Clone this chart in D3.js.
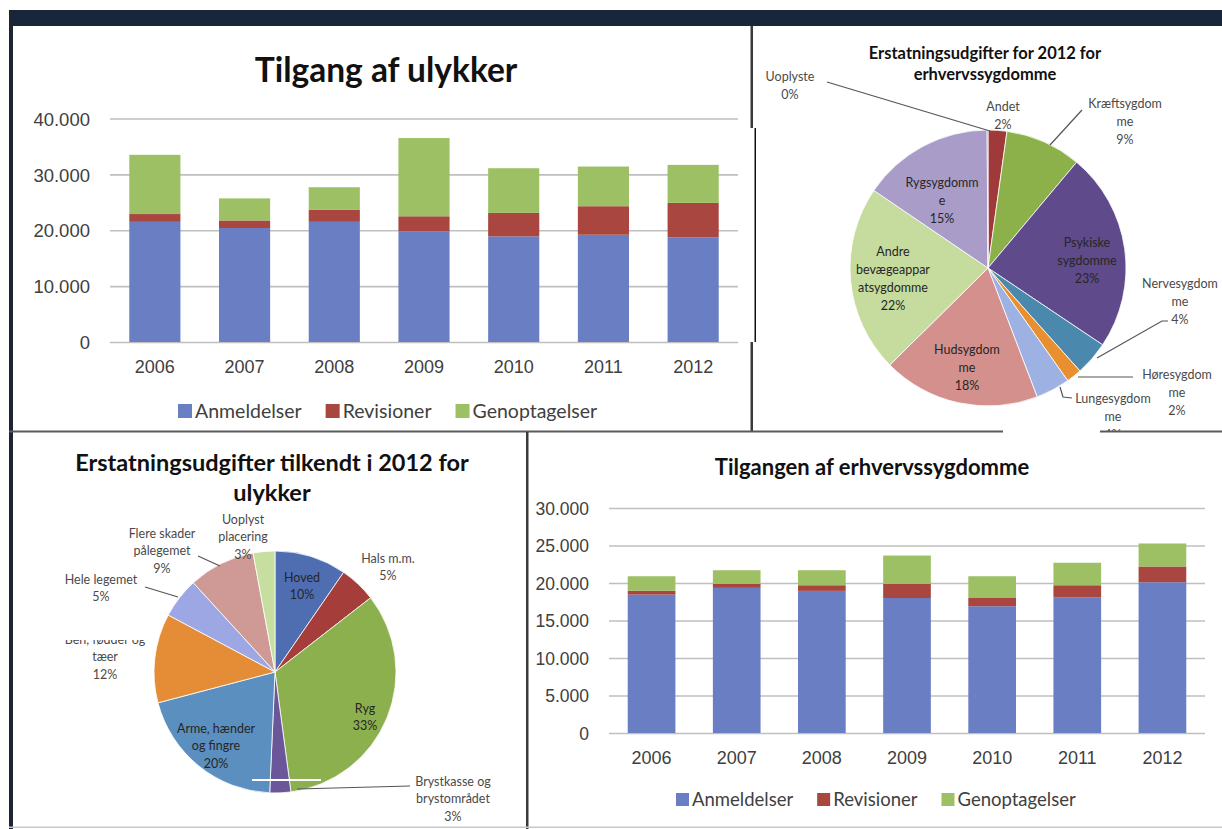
<!doctype html>
<html>
<head>
<meta charset="utf-8">
<script src="https://cdn.jsdelivr.net/npm/d3@7"></script>
<style>
  body { margin: 0; background: #fff; }
  svg { display: block; font-family: Lato, "Open Sans", sans-serif; }
</style>
</head>
<body>
<svg id="chart" width="1222" height="829"></svg>
<script>
const years = ["2006", "2007", "2008", "2009", "2010", "2011", "2012"];
const seriesNames = ["Anmeldelser", "Revisioner", "Genoptagelser"];

// Tilgang af ulykker
const ulykkerAnmeldelser = [21500, 20400, 21500, 19800, 18900, 19200, 18700];
const ulykkerRevisioner = [1400, 1350, 2200, 2700, 4200, 5100, 6200];
const ulykkerGenoptagelser = [10600, 3950, 4000, 14000, 8000, 7100, 6800];
const ulykkerTicks = [0, 10000, 20000, 30000, 40000];

// Tilgangen af erhvervssygdomme
const sygAnmeldelser = [18450, 19350, 18950, 18000, 16900, 18100, 20100];
const sygRevisioner = [530, 520, 750, 1870, 1100, 1600, 2100];
const sygGenoptagelser = [1920, 1830, 2000, 3790, 2900, 3000, 3070];
const sygTicks = [0, 5000, 10000, 15000, 20000, 25000, 30000];

// Erstatningsudgifter for 2012 for erhvervssygdomme (pct.)
const sygPieNames = [["Andet"], ["Kræftsygdom", "me"], ["Psykiske", "sygdomme"], ["Nervesygdom", "me"],
  ["Høresygdom", "me"], ["Lungesygdom", "me"], ["Hudsygdom", "me"],
  ["Andre", "bevægeappar", "atsygdomme"], ["Rygsygdomm", "e"], ["Uoplyste"]];
const sygPieValues = [2.2, 8.9, 23.3, 4.0, 1.8, 4.0, 18.4, 21.9, 15.4, 0.1];

// Erstatningsudgifter tilkendt i 2012 for ulykker (pct.)
const ulykkePieNames = [["Hoved"], ["Hals m.m."], ["Ryg"], ["Brystkasse og", "brystområdet"],
  ["Arme, hænder", "og fingre"], ["Ben, fødder og", "tæer"], ["Hele legemet"],
  ["Flere skader", "pålegemet"], ["Uoplyst", "placering"]];
const ulykkePieValues = [9.6, 4.9, 33.4, 2.8, 20.2, 11.9, 5.4, 8.9, 2.9];

const barColors = ["#6a7ec4", "#a8463f", "#9dc064"];
const sygPieColors = ["#a03a3a", "#8cb14a", "#5f4a8b", "#4a89ad", "#e8902f", "#9eb1e3", "#d4908c", "#c6dc9e", "#a99cc8", "#a03a3a"];
const ulykkePieColors = ["#4f6eb2", "#a53d3b", "#8db04e", "#6b569a", "#5b8fbf", "#e48d36", "#9ca7e3", "#cf9a95", "#c6dea0"];

const fmt = d3.formatLocale({decimal: ",", thousands: ".", grouping: [3], currency: ["", ""]}).format(",d");
const svg = d3.select("#chart");
svg.append("rect").attr("width", 1222).attr("height", 829).attr("fill", "#fff");

function stackedBars(cfg) {
  const g = svg.append("g");
  const rows = years.map((yr, i) => ({year: yr, Anmeldelser: cfg.series[0][i], Revisioner: cfg.series[1][i], Genoptagelser: cfg.series[2][i]}));
  const stacked = d3.stack().keys(seriesNames)(rows);
  const x = d3.scaleBand().domain(years).range([cfg.x0, cfg.x1]).paddingInner(cfg.pad).paddingOuter(cfg.pad / 2);
  const y = d3.scaleLinear().domain([0, d3.max(cfg.ticks)]).range([cfg.yb, cfg.yt]);

  const ya = g.append("g").attr("transform", `translate(${cfg.x0},0)`)
    .call(d3.axisLeft(y).tickValues(cfg.ticks).tickFormat(fmt).tickSize(-(cfg.x1 - cfg.x0)).tickPadding(20));
  ya.select(".domain").remove();
  ya.selectAll("line").attr("stroke", "#bfbfbf").attr("stroke-width", 1.6);
  ya.selectAll("text").attr("fill", "#404040").attr("font-size", cfg.yfs).attr("dy", "0.36em");

  g.selectAll("g.series").data(stacked).join("g").attr("fill", (d, i) => barColors[i])
    .selectAll("rect").data(d => d).join("rect")
    .attr("x", d => x(d.data.year)).attr("width", x.bandwidth())
    .attr("y", d => y(d[1])).attr("height", d => y(d[0]) - y(d[1]));

  const xa = g.append("g").attr("transform", `translate(0,${cfg.yb})`)
    .call(d3.axisBottom(x).tickSize(0).tickPadding(cfg.xPad));
  xa.select(".domain").remove();
  xa.selectAll("text").attr("fill", "#404040").attr("font-size", cfg.xfs);

  g.append("text").attr("x", cfg.titleX).attr("y", cfg.titleY).attr("text-anchor", "middle")
    .attr("font-weight", "bold").attr("font-size", cfg.titleFs).attr("fill", "#111").text(cfg.title);

  let lx = cfg.legendX;
  seriesNames.forEach((name, i) => {
    g.append("rect").attr("x", lx).attr("y", cfg.legendY - cfg.sq).attr("width", cfg.sq).attr("height", cfg.sq).attr("fill", barColors[i]);
    const t = g.append("text").attr("x", lx + cfg.sq + 3).attr("y", cfg.legendY).attr("font-size", cfg.lfs).attr("fill", "#404040").text(name);
    lx += cfg.sq + 3 + t.node().getComputedTextLength() + 24;
  });
}

function pieChart(cfg) {
  const g = svg.append("g").attr("transform", `translate(${cfg.cx},${cfg.cy})`);
  const arcs = d3.pie().sort(null).value(d => d)(cfg.values);
  const arc = d3.arc().innerRadius(0).outerRadius(cfg.r);
  g.selectAll("path").data(arcs).join("path").attr("d", arc)
    .attr("fill", (d, i) => cfg.colors[i]).attr("stroke", "#fff").attr("stroke-width", 0.8);

  const line = d3.line();
  cfg.leaders.forEach(l => {
    g.append("path").attr("d", line(l)).attr("fill", "none").attr("stroke", "#555").attr("stroke-width", 1.2);
  });

  cfg.names.forEach((name, i) => {
    const lines = name.concat([Math.round(cfg.values[i]) + "%"]);
    const [dx, dy] = cfg.labelPos[i];
    const t = g.append("text").attr("text-anchor", "middle").attr("font-size", cfg.fs)
      .attr("fill", cfg.inside.includes(i) ? "#262626" : "#4a4a4a");
    lines.forEach((s, k) => {
      t.append("tspan").attr("x", dx).attr("y", dy + (k - (lines.length - 1) / 2) * cfg.lh).attr("dy", "0.35em").text(s);
    });
  });

  const title = svg.append("text").attr("text-anchor", "middle").attr("font-weight", "bold")
    .attr("font-size", cfg.titleFs).attr("fill", "#111");
  cfg.title.forEach((s, k) => title.append("tspan").attr("x", cfg.titleX).attr("y", cfg.titleY + k * cfg.titleLh).text(s));
}

stackedBars({
  series: [ulykkerAnmeldelser, ulykkerRevisioner, ulykkerGenoptagelser], ticks: ulykkerTicks,
  x0: 110, x1: 738, yb: 342, yt: 118.5, pad: 0.43, yfs: 18.5, xfs: 18, xPad: 18,
  title: "Tilgang af ulykker", titleX: 386, titleY: 82, titleFs: 33.5,
  legendX: 178, legendY: 418, sq: 14, lfs: 19.5
});

stackedBars({
  series: [sygAnmeldelser, sygRevisioner, sygGenoptagelser], ticks: sygTicks,
  x0: 609, x1: 1205, yb: 733, yt: 508, pad: 0.44, yfs: 17.5, xfs: 18, xPad: 18,
  title: "Tilgangen af erhvervssygdomme", titleX: 872, titleY: 475, titleFs: 22,
  legendX: 676, legendY: 806, sq: 13, lfs: 18.5
});

pieChart({
  cx: 988, cy: 268, r: 138, values: sygPieValues, names: sygPieNames, colors: sygPieColors,
  fs: 12.5, lh: 18, inside: [2, 6, 7, 8],
  labelPos: [[15, -152], [137, -146], [99, -7], [192, 34], [189, 125], [125, 149], [-21, 100], [-95, 11], [-46, -67], [-198, -182]],
  leaders: [
    [[94, -158], [62, -123]],
    [[180, 53], [174, 53], [109, 90]],
    [[145, 109], [90, 109]],
    [[84, 130], [75, 129], [72, 119]],
    [[-161, -186], [2, -137]]
  ],
  title: ["Erstatningsudgifter for 2012 for", "erhvervssygdomme"], titleX: 985, titleY: 59, titleLh: 21, titleFs: 16.5
});

pieChart({
  cx: 275, cy: 672, r: 121, values: ulykkePieValues, names: ulykkePieNames, colors: ulykkePieColors,
  fs: 12.5, lh: 17.5, inside: [0, 2, 4],
  labelPos: [[27, -86], [113, -105], [90, 45], [178, 127], [-59, 74], [-170, -15], [-174, -84], [-113, -121], [-32, -135]],
  leaders: [
    [[-77, -116], [-55, -106]],
    [[-130, -85], [-97, -75]],
    [[135, 114], [22, 117]]
  ],
  title: ["Erstatningsudgifter tilkendt i 2012 for", "ulykker"], titleX: 272, titleY: 471, titleLh: 30, titleFs: 23.5
});

// panel frames
const frame = svg.append("g");
frame.append("rect").attr("x", 528).attr("y", 432).attr("width", 694).attr("height", 10).attr("fill", "#fff");
frame.append("rect").attr("x", 9).attr("y", 10).attr("width", 1213).attr("height", 16).attr("fill", "#17263a");
frame.append("rect").attr("x", 9).attr("y", 10).attr("width", 4).attr("height", 819).attr("fill", "#1c2533");
frame.append("rect").attr("x", 750.5).attr("y", 26).attr("width", 2.5).attr("height", 406).attr("fill", "#3a3a3a");
frame.append("rect").attr("x", 9).attr("y", 430.5).attr("width", 1213).attr("height", 2).attr("fill", "#5a5a5a");
frame.append("rect").attr("x", 526).attr("y", 432).attr("width", 2.5).attr("height", 397).attr("fill", "#3a3a3a");
frame.append("rect").attr("x", 9).attr("y", 826.5).attr("width", 1213).attr("height", 1.5).attr("fill", "#c8c8c8");

// pasted-image edges seen in the original collage
frame.append("rect").attr("x", 738).attr("y", 128).attr("width", 17).attr("height", 214).attr("fill", "#fff");
frame.append("rect").attr("x", 754.5).attr("y", 128).attr("width", 1.5).attr("height", 214).attr("fill", "#111");
frame.append("rect").attr("x", 1003).attr("y", 407).attr("width", 97).attr("height", 27).attr("fill", "#fff");
frame.append("rect").attr("x", 252).attr("y", 779).attr("width", 69).attr("height", 2).attr("fill", "#fff");
frame.append("rect").attr("x", 58).attr("y", 632).attr("width", 100).attr("height", 8).attr("fill", "#fff");
</script>
</body>
</html>
